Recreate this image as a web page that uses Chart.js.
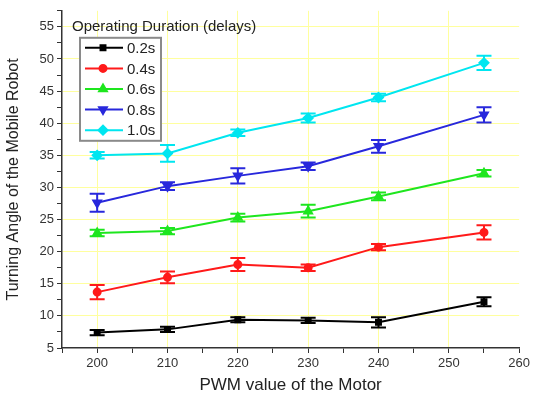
<!DOCTYPE html>
<html>
<head>
<meta charset="utf-8">
<script src="https://cdn.jsdelivr.net/npm/chart.js@4.4.1/dist/chart.umd.min.js"></script>
<style>
  html, body { margin: 0; padding: 0; background: #fff; }
  #wrap { width: 533px; height: 400px; }
</style>
</head>
<body>
<div id="wrap"><canvas id="chart" width="533" height="400"></canvas></div>
<script>
// PWM values on the x axis
const pwm = [200, 210, 220, 230, 240, 255];

// turning angle per operating duration, with error bar half-lengths
const d02 = [7.4, 7.9, 9.4, 9.3, 9.0, 12.2];
const e02 = [0.4, 0.4, 0.4, 0.4, 0.8, 0.7];
const d04 = [13.7, 16.0, 18.0, 17.5, 20.7, 23.0];
const e04 = [1.1, 0.9, 1.0, 0.5, 0.5, 1.1];
const d06 = [22.9, 23.2, 25.3, 26.3, 28.6, 32.2];
const e06 = [0.5, 0.5, 0.6, 1.0, 0.6, 0.5];
const d08 = [27.6, 30.2, 31.8, 33.3, 36.4, 41.3];
const e08 = [1.4, 0.6, 1.2, 0.6, 1.0, 1.2];
const d10 = [35.0, 35.3, 38.5, 40.8, 44.0, 49.4];
const e10 = [0.5, 1.3, 0.5, 0.7, 0.6, 1.1];

const seriesLabels = ['0.2s', '0.4s', '0.6s', '0.8s', '1.0s'];
const legendTitle = 'Operating Duration (delays)';

const colors = ['#000000', '#ff1a1a', '#1ee61e', '#2828dc', '#00e6f0'];
const styles = ['rect', 'circle', 'triangle', 'triangle', 'rectRot'];
const rotations = [0, 0, 0, 180, 0];
const radii = [3.5, 3.5, 4.5, 4.5, 4.5];
const values = [d02, d04, d06, d08, d10];
const errors = [e02, e04, e06, e08, e10];

const gridYellow = '#ffff9e';
const axisGrey = '#333333';

const datasets = values.map((v, i) => ({
  label: seriesLabels[i],
  data: pwm.map((x, j) => ({ x: x, y: v[j] })),
  borderColor: colors[i],
  backgroundColor: colors[i],
  borderWidth: 2,
  pointStyle: styles[i],
  rotation: rotations[i],
  pointRadius: radii[i],
  errs: errors[i]
}));

// vertical error bars with caps, placed through the chart's own scales
const errorBars = {
  id: 'errorBars',
  afterDatasetsDraw(chart) {
    const ctx = chart.ctx;
    const xs = chart.scales.x, ys = chart.scales.y;
    chart.data.datasets.forEach(ds => {
      ctx.save();
      ctx.strokeStyle = ds.borderColor;
      ctx.lineWidth = 2;
      ds.data.forEach((p, j) => {
        const px = xs.getPixelForValue(p.x);
        const top = ys.getPixelForValue(p.y + ds.errs[j]);
        const bot = ys.getPixelForValue(p.y - ds.errs[j]);
        ctx.beginPath();
        ctx.moveTo(px, top); ctx.lineTo(px, bot);
        ctx.moveTo(px - 7.5, top); ctx.lineTo(px + 7.5, top);
        ctx.moveTo(px - 7.5, bot); ctx.lineTo(px + 7.5, bot);
        ctx.stroke();
      });
      ctx.restore();
    });
  }
};

// boxed legend with a title, inside the plot area
const boxLegend = {
  id: 'boxLegend',
  afterDraw(chart) {
    const ctx = chart.ctx;
    const area = chart.chartArea;
    const bx = area.left + 18, by = area.top + 27, bw = 81, bh = 103;
    ctx.save();
    ctx.font = '15px "Liberation Sans", Arial, sans-serif';
    ctx.fillStyle = '#222';
    ctx.textBaseline = 'alphabetic';
    ctx.fillText(legendTitle, area.left + 10, area.top + 20);
    ctx.fillStyle = '#fff';
    ctx.fillRect(bx, by, bw, bh);
    ctx.strokeStyle = '#8a8a8a';
    ctx.lineWidth = 2;
    ctx.strokeRect(bx, by, bw, bh);
    ctx.font = '15px "Liberation Sans", Arial, sans-serif';
    ctx.textBaseline = 'middle';
    chart.data.datasets.forEach((ds, i) => {
      const cy = by + 10 + i * 20.6;
      ctx.strokeStyle = ds.borderColor;
      ctx.lineWidth = 2;
      ctx.beginPath();
      ctx.moveTo(bx + 5, cy); ctx.lineTo(bx + 43, cy);
      ctx.stroke();
      ctx.fillStyle = ds.borderColor;
      Chart.helpers.drawPoint(ctx, {
        pointStyle: ds.pointStyle, rotation: ds.rotation, radius: ds.pointRadius, borderWidth: 1
      }, bx + 23, cy);
      ctx.fillStyle = '#222';
      ctx.fillText(ds.label, bx + 47, cy + 1);
    });
    ctx.restore();
  }
};

new Chart(document.getElementById('chart'), {
  type: 'line',
  data: { datasets: datasets },
  options: {
    responsive: false,
    animation: false,
    layout: { padding: { top: 7, right: 12, left: 0, bottom: 0 } },
    plugins: { legend: { display: false }, tooltip: { enabled: false } },
    scales: {
      x: {
        type: 'linear',
        min: 195, max: 260,
        afterFit: s => { s.height = 52; },
        ticks: {
          stepSize: 5,
          autoSkip: false,
          maxRotation: 0,
          color: axisGrey,
          font: { size: 13, family: '"Liberation Sans", Arial, sans-serif' },
          callback: v => (v % 10 === 0 ? v : '')
        },
        grid: {
          color: c => (c.tick && c.tick.value % 10 === 0 && c.tick.value < 260 ? gridYellow : 'transparent'),
          tickColor: axisGrey,
          tickLength: 5,
          lineWidth: 1
        },
        border: { color: axisGrey, width: 1.5 },
        title: {
          display: true,
          text: 'PWM value of the Motor',
          color: '#222',
          font: { size: 17, family: '"Liberation Sans", Arial, sans-serif' },
          padding: { top: 8 }
        }
      },
      y: {
        min: 5, max: 57.5,
        afterFit: s => { s.width = 62; },
        ticks: {
          stepSize: 2.5,
          autoSkip: false,
          color: axisGrey,
          font: { size: 13, family: '"Liberation Sans", Arial, sans-serif' },
          callback: v => (v % 5 === 0 ? v : '')
        },
        grid: {
          color: c => (c.tick && c.tick.value % 5 === 0 && c.tick.value > 5 ? gridYellow : 'transparent'),
          tickColor: axisGrey,
          tickLength: 5,
          lineWidth: 1
        },
        border: { color: axisGrey, width: 1.5 },
        title: {
          display: true,
          text: 'Turning Angle of the Mobile Robot',
          color: '#222',
          font: { size: 16, family: '"Liberation Sans", Arial, sans-serif' },
          padding: { bottom: 4 }
        }
      }
    }
  },
  plugins: [errorBars, boxLegend]
});
</script>
</body>
</html>
